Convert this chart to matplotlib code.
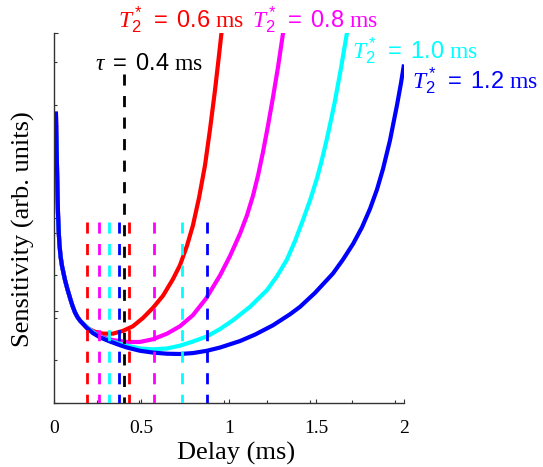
import matplotlib
matplotlib.use('Agg')
import matplotlib.pyplot as plt

plt.rcParams['font.family'] = 'Liberation Serif'
plt.rcParams['mathtext.fontset'] = 'custom'
plt.rcParams['mathtext.rm'] = 'Liberation Sans'
plt.rcParams['mathtext.it'] = 'Liberation Serif:italic'
plt.rcParams['lines.scale_dashes'] = False

# sensitivity curves, one per T2* (delay in ms, sensitivity in arb. units)
t2_vals = ['0.6', '0.8', '1.0', '1.2']
colors = ['#ff0000', '#ff00ff', '#00ffff', '#0000ff']

# all four curves share the steep part at short delays
left_x = [0.011, 0.014, 0.017, 0.020, 0.023, 0.027, 0.031, 0.038, 0.046,
          0.055, 0.063, 0.077, 0.091, 0.105, 0.120, 0.134, 0.149]
left_y = [3.15, 2.85, 2.57, 2.29, 2.05, 1.86, 1.72, 1.58, 1.48,
          1.40, 1.33, 1.23, 1.14, 1.055, 0.98, 0.93, 0.89]

red_x = [0.189, 0.234, 0.280, 0.337, 0.394, 0.451, 0.509, 0.566, 0.623, 0.680,
         0.720, 0.760, 0.794, 0.829, 0.863, 0.891, 0.920, 0.943, 0.960]
red_y = [0.81, 0.77, 0.75, 0.75, 0.78, 0.83, 0.92, 1.03, 1.16, 1.34,
         1.49, 1.70, 1.92, 2.22, 2.57, 2.95, 3.38, 3.76, 4.05]

mag_x = [0.194, 0.234, 0.280, 0.337, 0.417, 0.491, 0.566, 0.646, 0.720, 0.794,
         0.869, 0.949, 1.006, 1.063, 1.103, 1.137, 1.166, 1.194, 1.223, 1.251,
         1.280, 1.309, 1.314]
mag_y = [0.81, 0.76, 0.71, 0.68, 0.66, 0.66, 0.69, 0.75, 0.83, 0.95,
         1.13, 1.38, 1.59, 1.83, 2.03, 2.24, 2.46, 2.71, 3.00, 3.30,
         3.63, 4.00, 4.07]

cyan_x = [0.194, 0.234, 0.280, 0.337, 0.417, 0.491, 0.566, 0.646, 0.720, 0.794,
          0.874, 0.949, 1.023, 1.120, 1.217, 1.274, 1.331, 1.377, 1.423, 1.463,
          1.503, 1.531, 1.560, 1.583, 1.606, 1.640, 1.674, 1.680]
cyan_y = [0.81, 0.75, 0.70, 0.66, 0.62, 0.59, 0.58, 0.59, 0.62, 0.665,
          0.72, 0.80, 0.895, 1.04, 1.22, 1.37, 1.55, 1.75, 1.98, 2.19,
          2.43, 2.63, 2.86, 3.06, 3.27, 3.62, 4.00, 4.07]

blue_x = [0.189, 0.223, 0.263, 0.320, 0.377, 0.417, 0.491, 0.566, 0.646, 0.720,
          0.794, 0.874, 0.949, 1.063, 1.149, 1.251, 1.349, 1.406, 1.491, 1.594,
          1.651, 1.709, 1.760, 1.806, 1.846, 1.880, 1.920, 1.960, 1.983, 2.000]
blue_y = [0.81, 0.755, 0.71, 0.665, 0.625, 0.60, 0.565, 0.545, 0.533, 0.53,
          0.54, 0.565, 0.60, 0.67, 0.74, 0.84, 0.96, 1.04, 1.19, 1.40,
          1.55, 1.72, 1.90, 2.10, 2.31, 2.53, 2.84, 3.22, 3.46, 3.66]

curves_x = [red_x, mag_x, cyan_x, blue_x]
curves_y = [red_y, mag_y, cyan_y, blue_y]

# optimal delay window for each T2*, plus the chosen delay
dash_lo = [0.19, 0.255, 0.315, 0.373]
dash_hi = [0.43, 0.573, 0.733, 0.872]
dash_top = 1.96
tau = 0.4
tau_top = 3.56

# label anchors (left, baseline)
lab_x = [0.366, 1.131, 1.703, 2.046]
lab_y = [4.065, 4.065, 3.73, 3.405]

fig = plt.figure(figsize=(5.43, 4.67), dpi=100)
ax = fig.add_axes([0.0994, 0.137, 0.6446, 0.7923])

for cx, cy, c in zip(curves_x, curves_y, colors):
    ax.plot(left_x + cx, left_y + cy, color=c, lw=3,
            solid_capstyle='butt', solid_joinstyle='round')

for lo, hi, c in zip(dash_lo, dash_hi, colors):
    for xv in (lo, hi):
        ax.plot([xv, xv], [dash_top, 0], color=c, lw=2, dashes=(8, 7.5), zorder=3)
ax.plot([tau, tau], [tau_top, 0], color='k', lw=2, dashes=(8, 7.5), zorder=3)

for t2, c, lx, ly in zip(t2_vals, colors, lab_x, lab_y):
    ax.text(lx, ly, r'$T_2^*\ =\ %s$ ms' % t2, color=c, fontsize=17,
            ha='left', va='baseline', clip_on=False)
ax.text(0.234, 3.60, r'$\tau\ =\ %s$ ms' % tau, color='k', fontsize=17,
        ha='left', va='baseline', clip_on=False)

ax.set_xlim(0, 2)
ax.set_ylim(0, 4)
ax.set_xticks([0, 0.5, 1, 1.5, 2])
ax.set_xticklabels(['0', '0.5', '1', '1.5', '2'])
ax.set_yticks([0, 1, 2, 3, 4])
ax.set_yticklabels([])
ax.set_xticks([0.2434 * k for k in range(1, 9)], minor=True)
ax.set_yticks([0.4605 * k for k in range(1, 9)], minor=True)
ax.tick_params(which='major', direction='in', length=3, width=0.8,
               labelsize=14, pad=12, colors='#333333', labelcolor='k')
ax.tick_params(which='minor', direction='in', length=2, width=0.8, colors='#333333')

for s in ('top', 'right'):
    ax.spines[s].set_visible(False)
for s in ('left', 'bottom'):
    ax.spines[s].set_linewidth(1.0)
    ax.spines[s].set_color('#333333')

ax.set_xlabel('Delay (ms)', fontsize=19)
ax.set_ylabel('Sensitivity (arb. units)', fontsize=19)
ax.xaxis.set_label_coords(0.52, -0.105)
ax.yaxis.set_label_coords(-0.055, 0.47)

fig.savefig('out.png', dpi=100)
